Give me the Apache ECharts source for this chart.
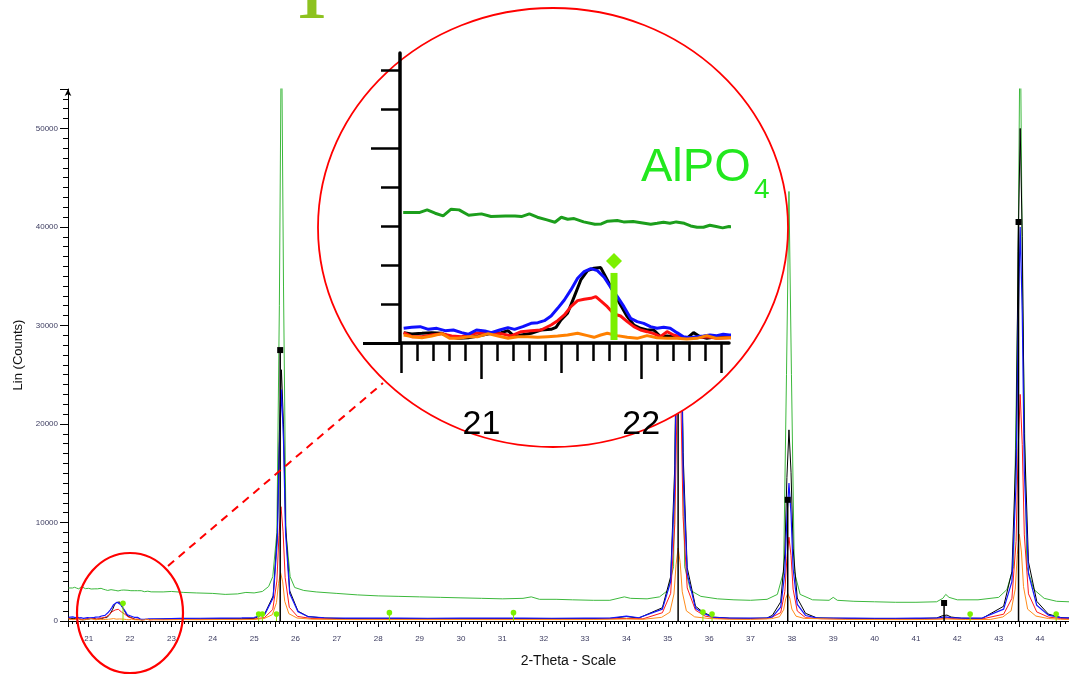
<!DOCTYPE html>
<html>
<head>
<meta charset="utf-8">
<script src="https://cdn.jsdelivr.net/npm/echarts@6/dist/echarts.min.js"></script>
<style>
html,body{margin:0;padding:0;background:#fff;}
#chart{width:1069px;height:676px;}
</style>
</head>
<body>
<div id="chart"></div>
<script>
// ---- data: [2-theta, counts] ----
const greenScan = [[20.51,3351],[20.61,3351],[20.66,3420],[20.71,3334],[20.76,3265],[20.81,3437],[20.86,3420],[20.92,3282],[21.00,3317],[21.06,3248],[21.15,3265],[21.21,3265],[21.25,3248],[21.30,3317],[21.35,3231],[21.41,3162],[21.46,3102],[21.50,3231],[21.54,3180],[21.58,3197],[21.64,3111],[21.71,3051],[21.75,3059],[21.79,3128],[21.85,3145],[21.89,3111],[21.95,3119],[22.02,3076],[22.06,3051],[22.10,3076],[22.14,3102],[22.18,3076],[22.22,3111],[22.27,3076],[22.31,3008],[22.35,2974],[22.39,2974],[22.43,3025],[22.47,2991],[22.51,2957],[22.55,2991],
[22.8,2950],[23.0,3000],[23.3,2900],[23.6,2850],[24.0,2800],[24.3,2700],[24.6,2750],[24.8,2900],[25.0,2850],[25.2,3000],[25.35,3500],[25.45,4500],[25.55,9000],[25.61,32000],[25.66,62000],[25.71,34000],[25.77,9000],[25.87,4500],[25.98,3400],[26.2,3100],[26.5,2950],[27.0,2800],[27.5,2650],[28.0,2550],[28.5,2500],[29.0,2450],[29.5,2400],[30.0,2350],[30.5,2300],[31.0,2250],[31.5,2300],[31.7,2450],[31.9,2200],[32.3,2200],[32.7,2150],[33.2,2100],[33.6,2100],[33.95,2450],[34.1,2300],[34.5,2250],[34.8,2450],[35.0,3100],[35.14,5500],[35.21,28000],[35.27,62000],[35.33,28000],[35.41,5500],[35.55,3100],[35.8,2500],[36.2,2250],[36.6,2150],[37.0,2100],[37.4,2200],[37.65,2700],[37.8,5000],[37.87,25000],[37.93,43600],[37.99,25000],[38.06,5000],[38.2,2700],[38.5,2150],[38.9,2100],[39.0,2400],[39.1,2100],[39.5,2000],[40.0,1950],[40.5,1900],[41.0,1900],[41.5,1950],[41.65,2300],[41.72,2700],[41.8,2400],[42.0,2150],[42.5,2150],[43.0,2400],[43.2,3200],[43.36,5500],[43.46,32000],[43.52,62000],[43.58,32000],[43.68,5500],[43.85,3200],[44.1,2300],[44.4,2000],[44.7,1950]];

const blackScan = [[20.513,266],[20.564,232],[20.627,249],[20.689,266],[20.751,249],[20.803,163],[20.855,120],[20.917,137],[20.979,180],[21.062,249],[21.124,266],[21.166,317],[21.207,163],[21.249,206],[21.311,249],[21.373,334],[21.436,351],[21.467,403],[21.498,591],[21.539,763],[21.581,1191],[21.622,1620],[21.664,1860],[21.705,1920],[21.747,1937],[21.788,1620],[21.830,1277],[21.871,977],[21.913,677],[21.954,463],[21.996,377],[22.037,334],[22.079,334],[22.120,163],[22.162,180],[22.203,163],[22.245,163],[22.286,120],[22.328,266],[22.369,163],[22.411,120],[22.452,146],[22.514,163],[22.552,163],
[22.8,200],[23.2,230],[23.7,210],[24.2,240],[24.7,230],[25.0,260],[25.26,765],[25.46,2550],[25.56,8900],[25.61,19100],[25.66,25500],[25.71,19900],[25.76,9700],[25.86,3060],[26.06,1000],[26.3,450],[26.7,300],[27.2,250],[27.8,230],[28.5,240],[29.2,220],[30.0,230],[30.8,250],[31.5,240],[32.2,230],[33.0,240],[33.6,260],[34.0,450],[34.3,300],[34.87,1350],[35.07,4500],[35.17,15750],[35.22,33750],[35.27,45000],[35.32,35100],[35.37,17100],[35.47,5400],[35.67,1500],[35.85,900],[36.1,400],[36.5,280],[37.0,260],[37.4,300],[37.53,580],[37.73,1940],[37.83,6800],[37.88,14550],[37.93,19400],[37.98,15100],[38.03,7400],[38.13,2330],[38.33,780],[38.6,320],[39.0,280],[39.5,250],[40.0,240],[40.5,230],[41.0,240],[41.5,300],[41.65,550],[41.75,600],[41.85,400],[42.1,280],[42.6,260],[43.12,1500],[43.32,5000],[43.42,17500],[43.47,37500],[43.52,50000],[43.57,39000],[43.62,19000],[43.72,6000],[43.92,2000],[44.2,700],[44.5,350],[44.7,300]];

const blueScan = [[20.513,377],[20.564,403],[20.616,420],[20.668,351],[20.720,377],[20.772,317],[20.824,334],[20.876,266],[20.917,223],[20.969,334],[21.021,309],[21.062,266],[21.114,334],[21.166,394],[21.207,351],[21.259,420],[21.311,505],[21.353,523],[21.394,574],[21.436,694],[21.477,891],[21.519,1105],[21.560,1363],[21.602,1663],[21.643,1834],[21.685,1911],[21.726,1860],[21.768,1688],[21.809,1431],[21.851,1191],[21.892,934],[21.934,634],[21.975,549],[22.016,505],[22.058,420],[22.099,377],[22.141,403],[22.182,377],[22.224,266],[22.265,163],[22.307,137],[22.348,163],[22.390,180],[22.431,206],[22.473,189],[22.514,223],[22.552,206],
[22.8,220],[23.2,260],[23.7,280],[24.2,300],[24.7,320],[25.0,350],[25.26,700],[25.46,2350],[25.56,8200],[25.61,17600],[25.66,23500],[25.71,18300],[25.76,8900],[25.86,2800],[26.06,940],[26.3,450],[26.7,330],[27.2,300],[27.8,290],[28.5,300],[29.2,280],[30.0,300],[30.8,290],[31.5,300],[32.2,280],[33.0,290],[33.6,300],[34.0,500],[34.3,330],[34.87,1200],[35.07,4000],[35.17,14000],[35.22,30000],[35.27,40000],[35.32,31200],[35.37,15200],[35.47,4800],[35.67,1300],[35.85,800],[36.1,380],[36.5,300],[37.0,290],[37.4,320],[37.53,420],[37.73,1400],[37.83,4900],[37.88,10500],[37.93,14000],[37.98,10900],[38.03,5300],[38.13,1680],[38.33,560],[38.6,320],[39.0,300],[39.5,290],[40.0,280],[40.5,280],[41.0,290],[41.5,300],[41.7,420],[41.85,350],[42.1,300],[42.6,300],[43.12,1200],[43.32,4000],[43.42,14000],[43.47,30000],[43.52,40000],[43.57,31200],[43.62,15200],[43.72,4800],[43.92,1600],[44.2,600],[44.5,350],[44.7,320]];

const redScan = [[20.513,266],[20.564,163],[20.627,163],[20.689,206],[20.751,240],[20.813,180],[20.876,163],[20.938,240],[21.000,266],[21.062,240],[21.124,240],[21.187,180],[21.249,291],[21.311,317],[21.373,334],[21.436,463],[21.477,574],[21.519,720],[21.560,934],[21.602,1088],[21.643,1122],[21.685,1148],[21.716,1191],[21.747,1080],[21.788,934],[21.830,746],[21.871,694],[21.913,549],[21.954,420],[21.996,334],[22.037,291],[22.079,240],[22.120,163],[22.162,291],[22.203,206],[22.245,163],[22.286,120],[22.348,137],[22.411,163],[22.473,120],[22.552,137],
[22.8,150],[23.2,180],[23.7,170],[24.2,190],[24.7,180],[25.0,200],[25.25,350],[25.45,1160],[25.55,4060],[25.60,8700],[25.65,11600],[25.70,9050],[25.75,4400],[25.85,1390],[26.05,460],[26.4,250],[27.0,200],[27.6,190],[28.4,200],[29.2,180],[30.0,190],[30.8,200],[31.6,190],[32.4,180],[33.2,200],[34.0,260],[34.4,220],[34.87,840],[35.07,2800],[35.17,9800],[35.22,21000],[35.27,28000],[35.32,21800],[35.37,10600],[35.47,3360],[35.67,1100],[35.9,500],[36.2,260],[36.8,210],[37.4,240],[37.53,420],[37.73,850],[37.83,2975],[37.88,6375],[37.93,8500],[37.98,6630],[38.03,3230],[38.13,1020],[38.33,340],[38.7,230],[39.2,210],[39.8,200],[40.4,190],[41.0,200],[41.6,220],[41.75,300],[42.0,220],[42.6,210],[43.12,690],[43.32,2300],[43.42,8050],[43.47,17250],[43.52,23000],[43.57,17900],[43.62,8740],[43.72,2760],[43.92,920],[44.2,400],[44.5,250],[44.7,220]];

const orangeScan = [[20.513,206],[20.564,163],[20.627,137],[20.689,180],[20.751,240],[20.803,120],[20.855,120],[20.917,163],[20.979,163],[21.042,240],[21.104,180],[21.166,120],[21.228,163],[21.290,163],[21.353,146],[21.415,163],[21.477,180],[21.539,206],[21.602,249],[21.664,189],[21.705,146],[21.747,206],[21.788,249],[21.850,189],[21.913,146],[21.975,120],[22.037,189],[22.099,137],[22.162,120],[22.224,120],[22.286,103],[22.348,120],[22.411,189],[22.473,120],[22.552,137],
[22.8,120],[23.2,140],[23.7,130],[24.2,150],[24.7,140],[25.0,160],[25.24,250],[25.44,640],[25.54,1860],[25.59,3820],[25.64,4900],[25.69,3970],[25.74,2000],[25.84,740],[26.04,300],[26.4,180],[27.0,150],[27.6,140],[28.4,150],[29.2,140],[30.0,150],[30.8,140],[31.6,150],[32.4,140],[33.2,150],[34.0,200],[34.4,170],[34.85,370],[35.05,890],[35.15,2740],[35.2,5700],[35.25,7400],[35.3,5920],[35.35,2960],[35.45,1030],[35.65,420],[36.0,250],[36.5,170],[37.0,160],[37.5,230],[37.7,430],[37.8,1130],[37.85,2250],[37.9,2800],[37.95,2330],[38.0,1210],[38.1,490],[38.3,260],[38.8,220],[39.3,160],[40.0,150],[40.6,140],[41.2,150],[41.7,200],[42.2,150],[42.8,160],[43.1,410],[43.3,1030],[43.4,3230],[43.45,6750],[43.5,8800],[43.55,7000],[43.6,3490],[43.7,1200],[43.9,500],[44.2,250],[44.5,170],[44.7,150]];

// reference patterns (stick lines)
const alpo4Theta  = [21.83, 25.11, 25.20, 25.54, 28.27, 31.27, 35.85, 36.07, 42.31, 44.39];
const alpo4Height = [1800, 700, 700, 700, 850, 850, 900, 700, 700, 700];
const refTheta  = [25.63, 35.25, 37.90, 41.68, 43.48];
const refHeight = [27500, 50000, 12300, 1830, 40500];

// axis ticks
const insetMajorTicks = [21, 22];
const insetMidTicks = [20.5, 21.5, 22.5];
const insetYTicks = [0, 1000, 2000, 3000, 4000, 5000, 6000, 7000];
const insetMinorTicks = [];
for (let i = 0; i <= 20; i++) insetMinorTicks.push(+(20.5 + i * 0.1).toFixed(1));

const alpo4Data = alpo4Theta.map((t, i) => [t, alpo4Height[i]]);
const refData = refTheta.map((t, i) => [t, refHeight[i]]);

const FONT = 'Liberation Sans, Arial, sans-serif';
const chart = echarts.init(document.getElementById('chart'), null, {renderer: 'canvas'});

function renderAlpoMain(params, api) {
  const x = api.value(0), v = api.value(1);
  const b = api.coord([x, 0]), t = api.coord([x, v]);
  return {type: 'group', children: [
    {type: 'line', shape: {x1: b[0], y1: b[1], x2: t[0], y2: t[1]}, style: {stroke: '#8ee000', lineWidth: 1}},
    {type: 'circle', shape: {cx: t[0], cy: t[1], r: 2.8}, style: {fill: '#7cf000'}}
  ]};
}
function renderAlpoInset(params, api) {
  const cs = params.coordSys;
  const x = api.value(0), v = api.value(1);
  const b = api.coord([x, 0]), t = api.coord([x, v]);
  if (b[0] < cs.x || b[0] > cs.x + cs.width) return null;
  const dy = t[1] - 12, h = 8;
  return {type: 'group', children: [
    {type: 'rect', shape: {x: b[0] - 3.5, y: t[1], width: 7, height: b[1] - 3 - t[1]}, style: {fill: '#7cf000'}},
    {type: 'polygon', shape: {points: [[t[0], dy - h], [t[0] + h, dy], [t[0], dy + h], [t[0] - h, dy]]}, style: {fill: '#7cf000'}}
  ]};
}
function renderRef(params, api) {
  const x = api.value(0), v = api.value(1);
  const b = api.coord([x, 0]), t = api.coord([x, v]);
  return {type: 'group', children: [
    {type: 'line', shape: {x1: b[0], y1: b[1], x2: t[0], y2: t[1]}, style: {stroke: '#000', lineWidth: 1.5}},
    {type: 'rect', shape: {x: t[0] - 3, y: t[1] - 3, width: 6, height: 6}, style: {fill: '#000'}}
  ]};
}

const mainLine = (data, color, w) => ({type: 'line', data, xAxisIndex: 0, yAxisIndex: 0, showSymbol: false, symbol: 'none',
  lineStyle: {color, width: w}, z: 2, animation: false, silent: true});
const insetLine = (data, color) => ({type: 'line', data, xAxisIndex: 1, yAxisIndex: 1, showSymbol: false, symbol: 'none',
  lineStyle: {color, width: 3}, z: 20, animation: false, silent: true});

const insetX = (extra) => Object.assign({type: 'value', gridIndex: 1, position: 'bottom', offset: 0, min: 20.49, max: 22.55, z: 20,
  splitLine: {show: false}, axisLabel: {show: false}, axisLine: {show: false}}, extra);
const insetY = (extra) => Object.assign({type: 'value', gridIndex: 1, position: 'left', offset: 0, min: 0, max: 7450, z: 20,
  splitLine: {show: false}, axisLabel: {show: false}, axisLine: {show: false}}, extra);

const option = {
  animation: false,
  backgroundColor: '#fff',
  grid: [
    {left: 68, right: 0, top: 89, bottom: 55, containLabel: false, outerBoundsMode: 'none'},
    {left: 400, top: 53, width: 329, height: 290, containLabel: false, outerBoundsMode: 'none'}
  ],
  xAxis: [
    {type: 'value', gridIndex: 0, position: 'bottom', min: 20.5, max: 44.7, interval: 0.5,
     axisLine: {lineStyle: {color: '#000', width: 1}},
     axisTick: {length: 6, lineStyle: {color: '#000', width: 1}},
     minorTick: {show: true, splitNumber: 5, length: 3, lineStyle: {color: '#000', width: 1}},
     splitLine: {show: false},
     axisLabel: {fontSize: 8, color: '#3c3c60', fontFamily: FONT, margin: 14,
       formatter: v => Math.abs(v - Math.round(v)) < 1e-6 ? String(Math.round(v)) : ''},
     name: '2-Theta - Scale', nameLocation: 'middle', nameGap: 33,
     nameTextStyle: {fontSize: 14, color: '#111', fontFamily: FONT}},
    insetX({axisLine: {show: true, lineStyle: {color: '#000', width: 3.5}},
      axisTick: {show: true, customValues: insetMinorTicks, length: 18, lineStyle: {color: '#000', width: 2.5}}}),
    insetX({axisTick: {show: true, customValues: insetMidTicks, length: 30, lineStyle: {color: '#000', width: 2.5}}}),
    insetX({axisTick: {show: true, customValues: insetMajorTicks, length: 36, lineStyle: {color: '#000', width: 2.5}},
      axisLabel: {show: true, customValues: insetMajorTicks, fontSize: 34, color: '#000', fontFamily: FONT, margin: 82, verticalAlign: 'middle'}})
  ],
  yAxis: [
    {type: 'value', gridIndex: 0, position: 'left', min: 0, max: 54000, interval: 10000,
     axisLine: {show: true, symbol: ['none', 'arrow'], symbolSize: [5, 7], lineStyle: {color: '#000', width: 1}},
     axisTick: {show: true, length: 8, lineStyle: {color: '#000', width: 1}},
     minorTick: {show: true, splitNumber: 10, length: 5, lineStyle: {color: '#000', width: 1}},
     splitLine: {show: false},
     axisLabel: {fontSize: 8, color: '#3c3c60', fontFamily: FONT, margin: 10, showMaxLabel: false, formatter: v => String(v)},
     name: 'Lin (Counts)', nameLocation: 'middle', nameGap: 40, nameRotate: 90,
     nameTextStyle: {fontSize: 13, color: '#111', fontFamily: FONT}},
    insetY({axisLine: {show: true, lineStyle: {color: '#000', width: 3.5}},
      axisTick: {show: true, customValues: insetYTicks, length: 19, lineStyle: {color: '#000', width: 2.5}}}),
    insetY({axisTick: {show: true, customValues: [5000], length: 29, lineStyle: {color: '#000', width: 2.5}}}),
    insetY({axisTick: {show: true, customValues: [0], length: 37, lineStyle: {color: '#000', width: 3}}})
  ],
  series: [
    mainLine(greenScan, '#3cb83c', 1),
    mainLine(blackScan, '#000000', 1),
    mainLine(redScan, '#ff1a1a', 1),
    mainLine(blueScan, '#1414ff', 1.2),
    mainLine(orangeScan, '#ff8c1a', 1),
    {type: 'custom', xAxisIndex: 0, yAxisIndex: 0, data: refData, renderItem: renderRef, z: 3, silent: true, encode: {x: 0, y: 1}},
    {type: 'custom', xAxisIndex: 0, yAxisIndex: 0, data: alpo4Data, renderItem: renderAlpoMain, z: 3, silent: true, encode: {x: 0, y: 1}},
    insetLine(greenScan, '#1c9e1c'),
    insetLine(blackScan, '#000000'),
    insetLine(redScan, '#ff1010'),
    insetLine(blueScan, '#1010ff'),
    insetLine(orangeScan, '#ff8000'),
    {type: 'custom', xAxisIndex: 1, yAxisIndex: 1, data: alpo4Data, renderItem: renderAlpoInset, z: 22, silent: true, encode: {x: 0, y: 1}}
  ],
  graphic: {elements: [
    {type: 'ellipse', shape: {cx: 553, cy: 227.5, rx: 235, ry: 219.5}, style: {fill: '#fff', stroke: '#ff0000', lineWidth: 1.8}, z: 10, silent: true},
    {type: 'ellipse', shape: {cx: 130, cy: 613, rx: 53, ry: 60}, style: {fill: 'transparent', stroke: '#ff0000', lineWidth: 2.2}, z: 10, silent: true},
    {type: 'line', shape: {x1: 168, y1: 566, x2: 383, y2: 383}, style: {stroke: '#ff0000', lineWidth: 2, lineDash: [8, 6]}, z: 10, silent: true},
    {type: 'text', x: 641, y: 168, style: {text: 'AlPO', fontSize: 47, fill: '#22e81e', fontFamily: FONT, verticalAlign: 'middle', textAlign: 'left'}, z: 25, silent: true},
    {type: 'text', x: 754, y: 190, style: {text: '4', fontSize: 28, fill: '#22e81e', fontFamily: FONT, verticalAlign: 'middle', textAlign: 'left'}, z: 25, silent: true},
    {type: 'text', x: 311, y: 33, style: {text: '1', fontSize: 64, fontWeight: 'bold', fill: '#8dc21f', fontFamily: 'Liberation Serif, serif', verticalAlign: 'bottom', textAlign: 'center'}, z: 25, silent: true}
  ]}
};
chart.setOption(option);
</script>
</body>
</html>
